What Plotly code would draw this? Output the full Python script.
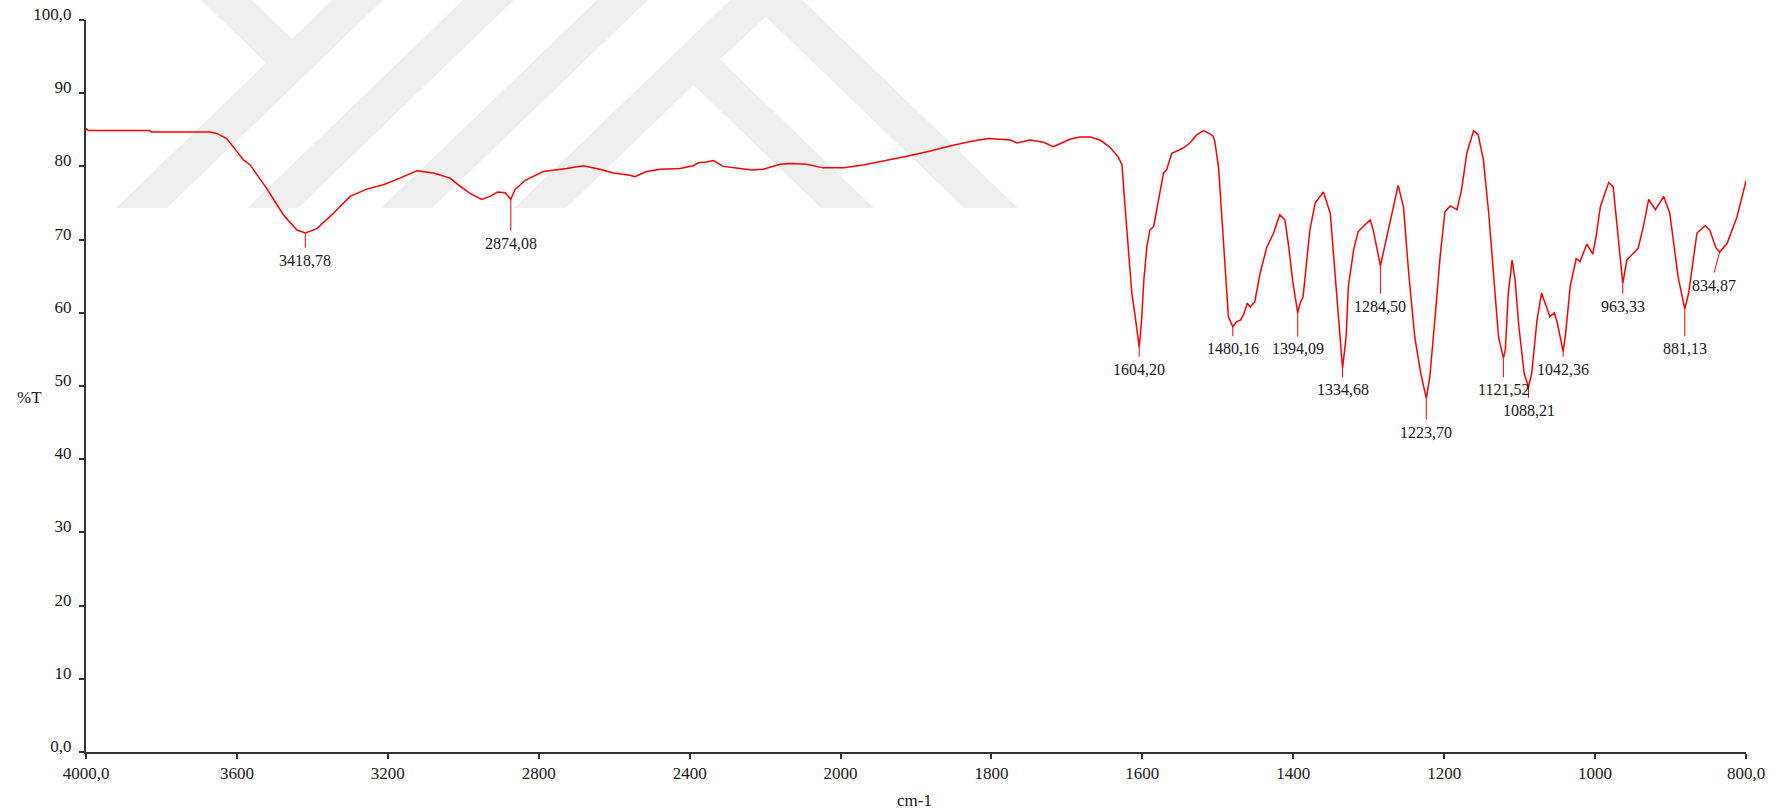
import numpy as np
import plotly.graph_objects as go

# ---- FTIR spectrum (wavenumber in cm-1, transmittance in %T) ----
wavenumber = [
    4000, 3994, 3832, 3826, 3672, 3653, 3627, 3610, 3583, 3565, 3521, 3477, 3441,
    3418.78, 3388, 3344, 3300, 3256, 3212, 3168, 3123, 3079, 3035, 3009, 2982,
    2951, 2929, 2909, 2889, 2874.08, 2863, 2836, 2788, 2726, 2682, 2638, 2602,
    2558, 2545, 2514, 2478, 2425, 2390, 2377, 2355, 2337, 2311, 2266, 2235, 2205,
    2160, 2134, 2090, 2046, 1996, 1970, 1939, 1912, 1881, 1855, 1828, 1804, 1789,
    1775, 1766, 1749, 1731, 1718, 1707, 1696, 1683, 1669, 1656, 1643, 1632, 1627,
    1624, 1619, 1614, 1610, 1604.20, 1601, 1598, 1594, 1590, 1585, 1581, 1576,
    1572, 1568, 1561, 1546, 1537, 1528, 1519, 1510, 1506, 1504, 1499, 1495, 1490,
    1486, 1480.16, 1475, 1470, 1466, 1461, 1457, 1451, 1444, 1435, 1426, 1418,
    1411, 1406, 1401, 1394.09, 1391, 1387, 1378, 1371, 1360, 1351, 1345, 1339,
    1334.68, 1330, 1327, 1320, 1314, 1303, 1298, 1294, 1284.50, 1276, 1267, 1261,
    1254, 1247, 1239, 1231, 1223.70, 1219, 1212, 1205, 1199, 1192, 1183, 1177,
    1170, 1161, 1155, 1148, 1141, 1135, 1128, 1121.52, 1119, 1115, 1110, 1106,
    1101, 1094, 1088.21, 1084, 1077, 1071, 1064, 1060, 1054, 1050, 1042.36, 1039,
    1033, 1025, 1020, 1011, 1003, 998, 993, 982, 976, 971, 963.33, 958, 951, 943,
    936, 929, 920, 909, 901, 890, 881.13, 876, 865, 854, 848, 840, 834.87, 825,
    812, 800,
]
transmittance = [
    85.2, 84.9, 84.9, 84.7, 84.7, 84.5, 83.8, 82.7, 80.9, 80.2, 77.0, 73.4, 71.3,
    70.9, 71.5, 73.6, 75.9, 76.9, 77.5, 78.4, 79.4, 79.1, 78.4, 77.3, 76.3,
    75.5, 75.9, 76.5, 76.4, 75.5, 76.8, 78.1, 79.3, 79.7, 80.1, 79.6, 79.1,
    78.8, 78.6, 79.3, 79.6, 79.7, 80.1, 80.5, 80.6, 80.8, 80.0, 79.7, 79.5, 79.6,
    80.3, 80.4, 80.3, 79.8, 79.8, 80.2, 80.8, 81.4, 82.1, 82.8, 83.4, 83.8, 83.7,
    83.6, 83.2, 83.6, 83.3, 82.7, 83.2, 83.7, 84.0, 84.0, 83.6, 82.6, 81.3, 80.2,
    75.9, 69.0, 62.7, 59.9, 55.3, 59.0, 64.5, 69.0, 71.3, 71.8, 74.0, 76.8,
    79.1, 79.5, 81.8, 82.5, 83.2, 84.3, 84.9, 84.4, 84.1, 83.4, 79.8, 73.6, 65.8,
    59.5, 58.1, 58.8, 59.0, 59.7, 61.3, 60.8, 61.5, 65.4, 69.0, 70.9, 73.4,
    72.7, 69.0, 64.5, 60.0, 61.3, 62.2, 71.3, 75.0, 76.5, 73.6, 65.8, 58.1,
    52.4, 56.7, 63.6, 68.6, 71.1, 72.2, 72.7, 71.3, 66.4, 70.4, 74.5, 77.4,
    74.5, 65.4, 56.7, 51.7, 48.3, 51.3, 59.5, 68.1, 73.8, 74.6, 74.1, 76.8,
    81.8, 84.9, 84.3, 80.9, 73.6, 65.4, 56.7, 53.8, 54.9, 62.7, 67.2, 64.5,
    58.1, 51.7, 49.9, 51.7, 59.0, 62.7, 60.8, 59.5, 60.0, 58.6, 54.7, 57.2,
    63.6, 67.4, 67.0, 69.4, 68.0, 70.9, 74.5, 77.8, 77.2, 71.8, 64.0, 67.2, 67.9, 68.8,
    71.8, 75.5, 74.1, 75.9, 73.6, 64.9, 60.5, 62.7, 70.9, 71.9, 71.3, 68.9, 68.3, 69.5,
    73.1, 78.0,
]

# ---- picked peaks ----
peak_wavenumbers = [3418.78, 2874.08, 1604.20, 1480.16, 1394.09, 1334.68, 1284.50,
                    1223.70, 1121.52, 1088.21, 1042.36, 963.33, 881.13, 834.87]
peak_labels = ["3418,78", "2874,08", "1604,20", "1480,16", "1394,09", "1334,68", "1284,50",
               "1223,70", "1121,52", "1088,21", "1042,36", "963,33", "881,13", "834,87"]
# where each marker line ends (label sits just below it)
label_anchor_wavenumber = [3418.78, 2874.08, 1604.20, 1480.16, 1394.09, 1334.68, 1284.50,
                           1223.70, 1121.52, 1088.21, 1042.36, 963.33, 881.13, 842.3]
label_anchor_T = [68.9, 71.2, 54.0, 56.8, 56.8, 51.2, 62.6,
                  45.4, 51.2, 48.4, 54.0, 62.6, 56.8, 65.5]

# ---- axis ticks ----
x_tick_values = [4000, 3600, 3200, 2800, 2400, 2000, 1800, 1600, 1400, 1200, 1000, 800]
x_tick_labels = ["4000,0", "3600", "3200", "2800", "2400", "2000", "1800", "1600",
                 "1400", "1200", "1000", "800,0"]
y_tick_values = [0, 10, 20, 30, 40, 50, 60, 70, 80, 90, 100]
y_tick_labels = ["0,0", "10", "20", "30", "40", "50", "60", "70", "80", "90", "100,0"]


def axis_pos(w):
    """Instrument-style wavenumber scale: 400 cm-1 per division above 2000,
    200 cm-1 per division below."""
    w = np.asarray(w, dtype=float)
    return np.where(w >= 2000, (4000 - w) / 400.0, 5 + (2000 - w) / 200.0)


FONT = "Liberation Serif, Times New Roman, serif"
RED = "#ff0000"
INK = "#1a1a1a"
AXIS = "#333333"

fig = go.Figure()
fig.add_trace(go.Scatter(
    x=axis_pos(wavenumber), y=transmittance, mode="lines",
    line=dict(color=RED, width=1.5), hoverinfo="skip", showlegend=False,
))

shapes = []
annotations = []

# background logo watermark (pixel layout -> paper fractions)
L, R, T, B = 86, 1746, 20, 752


def to_paper(px, py):
    return (px - L) / (R - L), (B - py) / (B - T)


logo_polys = [
    [(201, 0), (266, 63), (116, 208), (167, 208), (383, 0), (332, 0), (292, 39), (252, 0)],
    [(463, 0), (514, 0), (298, 208), (247, 208)],
    [(597, 0), (648, 0), (432, 208), (381, 208)],
    [(730, 0), (802, 0), (1018, 208), (964, 208), (766, 17), (720, 59.6),
     (874, 208), (821, 208), (693.6, 85), (566, 208), (514, 208)],
]
for poly in logo_polys:
    pts = [to_paper(px, py) for px, py in poly]
    path = "M " + " L ".join(f"{x:.5f},{y:.5f}" for x, y in pts) + " Z"
    shapes.append(dict(type="path", path=path, xref="paper", yref="paper",
                       fillcolor="#efefef", line=dict(width=0), layer="below"))

# peak marker lines and labels
peak_T = np.interp(peak_wavenumbers[::-1], wavenumber[::-1], transmittance[::-1])[::-1]
for w, t, aw, at, lab in zip(peak_wavenumbers, peak_T, label_anchor_wavenumber,
                              label_anchor_T, peak_labels):
    shapes.append(dict(type="line", xref="x", yref="y",
                       x0=float(axis_pos(w)), y0=float(t),
                       x1=float(axis_pos(aw)), y1=at,
                       line=dict(color=RED, width=1)))
    annotations.append(dict(x=float(axis_pos(aw)), y=at, xref="x", yref="y",
                            text=lab, showarrow=False, xanchor="center", yanchor="top",
                            yshift=-2, font=dict(family=FONT, size=16, color=INK)))

# axis titles
px_, py_ = to_paper(29.5, 397)
annotations.append(dict(x=px_, y=py_, xref="paper", yref="paper", text="%T",
                        showarrow=False, xanchor="center", yanchor="middle",
                        font=dict(family=FONT, size=17, color=INK)))
px_, py_ = to_paper(914, 801)
annotations.append(dict(x=px_, y=py_, xref="paper", yref="paper", text="cm-1",
                        showarrow=False, xanchor="center", yanchor="middle",
                        font=dict(family=FONT, size=17, color=INK)))

fig.update_layout(
    width=1782, height=812,
    margin=dict(l=L, r=1782 - R, t=T, b=812 - B, autoexpand=False),
    paper_bgcolor="white", plot_bgcolor="rgba(0,0,0,0)",
    shapes=shapes, annotations=annotations,
    font=dict(family=FONT, size=17, color=INK),
    showlegend=False,
)
fig.update_xaxes(
    range=[0, 11], tickmode="array",
    tickvals=axis_pos(x_tick_values).tolist(), ticktext=x_tick_labels,
    showline=True, linecolor=AXIS, linewidth=2, ticks="outside", ticklen=5,
    tickwidth=1.5, tickcolor=AXIS, showgrid=False, zeroline=False, automargin=False,
    tickfont=dict(family=FONT, size=17, color=INK),
)
fig.update_yaxes(
    range=[0, 100], tickmode="array", tickvals=y_tick_values, ticktext=y_tick_labels,
    showline=True, linecolor=AXIS, linewidth=2, ticks="outside", ticklen=5,
    tickwidth=1.5, tickcolor=AXIS, showgrid=False, zeroline=False, automargin=False,
    ticklabelshift=-6, ticklabelstandoff=4,
    tickfont=dict(family=FONT, size=17, color=INK),
)

fig.write_html("out.html")
